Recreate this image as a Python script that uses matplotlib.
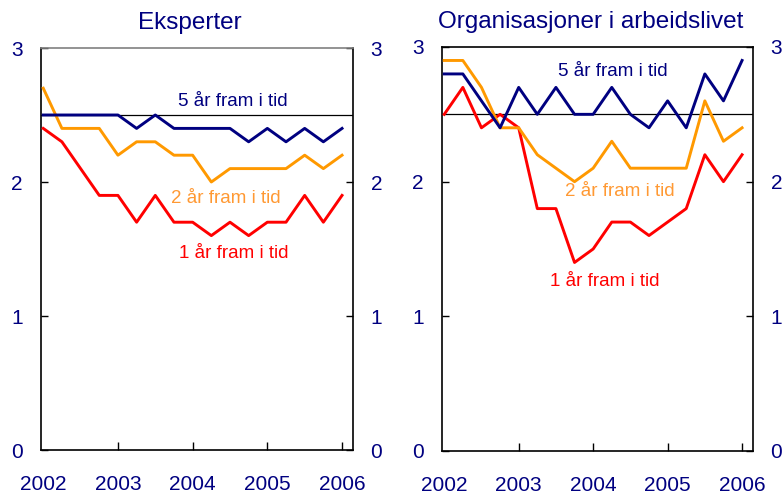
import numpy as np
import matplotlib
matplotlib.use("Agg")
import matplotlib.pyplot as plt

plt.rcParams['font.family'] = ['Liberation Sans', 'DejaVu Sans']

# Quarterly observations 2002K1 - 2006K1
quarters = ["2002K1", "2002K2", "2002K3", "2002K4", "2003K1", "2003K2", "2003K3", "2003K4",
            "2004K1", "2004K2", "2004K3", "2004K4", "2005K1", "2005K2", "2005K3", "2005K4", "2006K1"]
years = [2002, 2003, 2004, 2005, 2006]
yticks = [0, 1, 2, 3]

# Eksperter
eksp_5ar = [2.5, 2.5, 2.5, 2.5, 2.5, 2.4, 2.5, 2.4, 2.4, 2.4, 2.4, 2.3, 2.4, 2.3, 2.4, 2.3, 2.4]
eksp_2ar = [2.7, 2.4, 2.4, 2.4, 2.2, 2.3, 2.3, 2.2, 2.2, 2.0, 2.1, 2.1, 2.1, 2.1, 2.2, 2.1, 2.2]
eksp_1ar = [2.4, 2.3, 2.1, 1.9, 1.9, 1.7, 1.9, 1.7, 1.7, 1.6, 1.7, 1.6, 1.7, 1.7, 1.9, 1.7, 1.9]

# Organisasjoner i arbeidslivet
org_5ar = [2.8, 2.8, 2.6, 2.4, 2.7, 2.5, 2.7, 2.5, 2.5, 2.7, 2.5, 2.4, 2.6, 2.4, 2.8, 2.6, 2.9]
org_2ar = [2.9, 2.9, 2.7, 2.4, 2.4, 2.2, 2.1, 2.0, 2.1, 2.3, 2.1, 2.1, 2.1, 2.1, 2.6, 2.3, 2.4]
org_1ar = [2.5, 2.7, 2.4, 2.5, 2.4, 1.8, 1.8, 1.4, 1.5, 1.7, 1.7, 1.6, 1.7, 1.8, 2.2, 2.0, 2.2]

ref_level = 2.5
titles = ["Eksperter", "Organisasjoner i arbeidslivet"]
labels = ["5 år fram i tid", "2 år fram i tid", "1 år fram i tid"]

x = np.array([int(q[:4]) + (int(q[-1]) - 1) / 4 for q in quarters])

NAVY = "#000080"
ORANGE = "#FF9900"
ORANGE_TXT = "#FF9933"
RED = "#FF0000"

fig = plt.figure(figsize=(7.82, 4.97), dpi=100)
ax1 = fig.add_axes([41 / 782, 1 - 450 / 497, 311.5 / 782, 402 / 497])
ax2 = fig.add_axes([442 / 782, 1 - 451 / 497, 310.5 / 782, 404 / 497])

panels = [
    (ax1, eksp_5ar, eksp_2ar, eksp_1ar,
     [(2004.54, 2.60), (2004.44, 1.88), (2004.55, 1.47)], "#808080"),
    (ax2, org_5ar, org_2ar, org_1ar,
     [(2004.26, 2.82), (2004.36, 1.93), (2004.15, 1.26)], "black"),
]

for (ax, s5, s2, s1, pos, topcol), title in zip(panels, titles):
    ax.axhline(ref_level, color="black", lw=0.9, zorder=1)
    ax.plot(x, s1, color=RED, lw=2.1, zorder=3)
    ax.plot(x, s2, color=ORANGE, lw=2.1, zorder=3)
    ax.plot(x, s5, color=NAVY, lw=2.1, zorder=4)
    ax.set_xlim(2001.97, 2006.14)
    ax.set_ylim(0, 3)
    ax.set_xticks(years)
    ax.set_xticklabels([str(y) for y in years])
    ax.set_yticks(yticks)
    ax.tick_params(axis='y', which='both', direction='in', length=5, width=1,
                   left=True, right=True, labelleft=True, labelright=True,
                   labelsize=15, labelcolor=NAVY, pad=13)
    ax.tick_params(axis='x', direction='in', length=6, width=1,
                   labelsize=15, labelcolor=NAVY, pad=18)
    ax.xaxis.get_major_ticks()[0].tick1line.set_visible(False)
    for sp in ["left", "right", "bottom"]:
        ax.spines[sp].set_color("black")
        ax.spines[sp].set_linewidth(1.2)
    ax.spines["top"].set_color(topcol)
    ax.spines["top"].set_linewidth(1.2)
    ax.set_title(title, fontsize=17.5, color=NAVY, pad=14, x=0.478)
    cols = [NAVY, ORANGE_TXT, RED]
    for lab, (tx, ty), c in zip(labels, pos, cols):
        ax.text(tx, ty, lab, color=c, fontsize=13.5, ha="center", va="center", zorder=5)

fig.savefig("out.png", dpi=100)
